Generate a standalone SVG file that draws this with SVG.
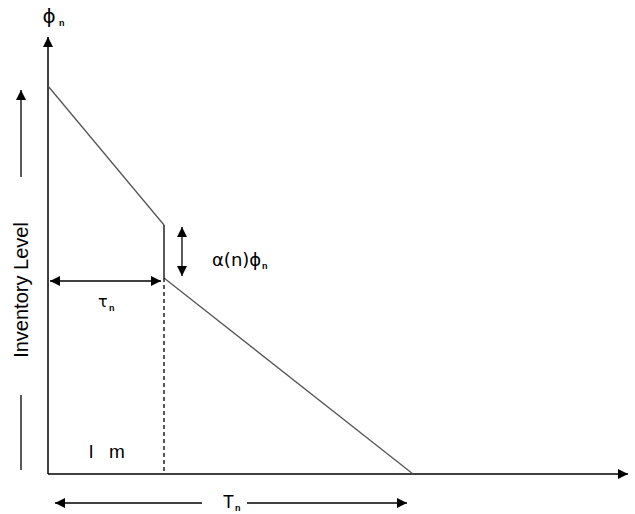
<svg xmlns="http://www.w3.org/2000/svg" width="635" height="514" viewBox="0 0 635 514">
<style>
.ax{stroke:#000;stroke-width:1.5;fill:none}
.ln{stroke:#000;stroke-width:1.3;fill:none}
.gr{stroke:#555;stroke-width:1.3;fill:none}
.t{font-family:"Liberation Sans",Arial,sans-serif;fill:#000}
.g{font-family:"DejaVu Sans","Liberation Sans",sans-serif;fill:#000}
.sub{font-family:"Liberation Sans",Arial,sans-serif;font-size:9px;font-weight:bold;fill:#000}
</style>
<defs>
<marker id="ah" markerUnits="userSpaceOnUse" markerWidth="10" markerHeight="10" refX="10" refY="5" orient="auto-start-reverse">
<path d="M0,0 L10,5 L0,10 z" fill="#000"/>
</marker>
</defs>
<rect width="635" height="514" fill="#fff"/>
<g id="connectors">
<line class="ax" x1="48" y1="474" x2="48" y2="37" marker-end="url(#ah)"/>
<line class="ax" x1="48" y1="474" x2="628" y2="474" marker-end="url(#ah)"/>
<polyline class="gr" points="48,86 164,225"/>
<line class="ln" x1="164" y1="225" x2="164" y2="278"/>
<polyline class="gr" points="164,278 413,474"/>
<line class="ln" x1="164" y1="278" x2="164" y2="474" stroke-dasharray="4,3"/>
<line class="ln" x1="50" y1="281" x2="161" y2="281" marker-start="url(#ah)" marker-end="url(#ah)"/>
<line class="ln" x1="182" y1="227" x2="182" y2="276" marker-start="url(#ah)" marker-end="url(#ah)"/>
<line class="ln" x1="21" y1="177" x2="21" y2="90" marker-end="url(#ah)"/>
<line class="ln" x1="21" y1="395" x2="21" y2="470"/>
<line class="ln" x1="202" y1="503" x2="55" y2="503" marker-end="url(#ah)"/>
<line class="ln" x1="247" y1="503" x2="407" y2="503" marker-end="url(#ah)"/>
</g>
<g id="labels">
<text class="g" x="49" y="23" font-size="20" text-anchor="middle">ϕ</text><text class="sub" x="59" y="26">n</text>
<text class="t" x="28" y="290" font-size="20" text-anchor="middle" transform="rotate(-90 28 290)">Inventory Level</text>
<text class="g" x="98" y="307" font-size="16">τ</text><text class="sub" x="109" y="311">n</text>
<text class="g" x="212" y="266" font-size="18">α(n)ϕ</text><text class="sub" x="262" y="269">n</text>
<text class="t" font-size="19" y="458"><tspan x="89">l</tspan><tspan x="109">m</tspan></text>
<text class="t" x="223" y="508" font-size="18">T</text><text class="sub" x="235" y="511">n</text>
</g>
</svg>
